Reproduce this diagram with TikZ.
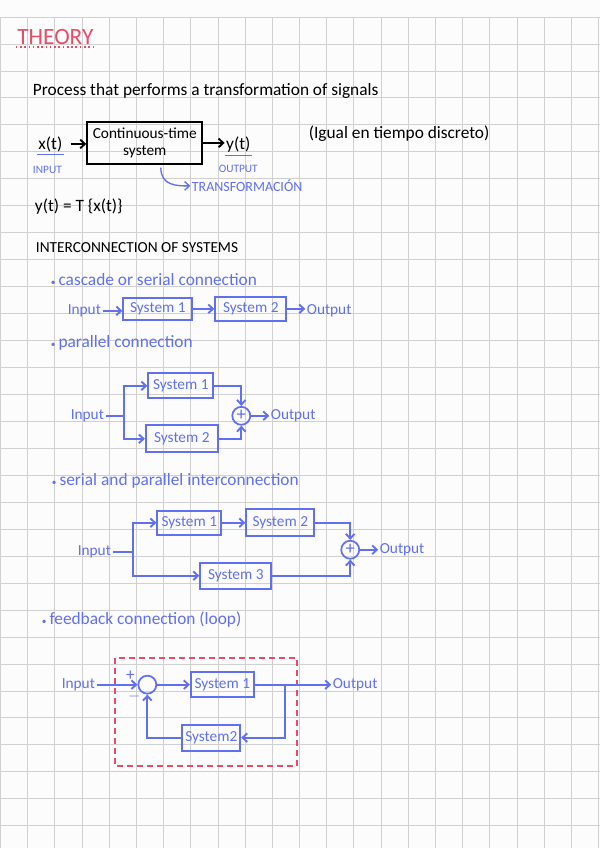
\documentclass[tikz,border=0pt]{standalone}
\usepackage{fontspec}
\setmainfont{Carlito}
\usetikzlibrary{arrows.meta, positioning, calc}
\definecolor{inkblue}{RGB}{96,112,240}
\definecolor{inkred}{RGB}{232,76,104}
\definecolor{gridgray}{RGB}{208,208,208}
\definecolor{paper}{RGB}{252,252,252}
\newcommand{\dotmark}{{\fontsize{7}{7}\selectfont\textbullet}\,}

\begin{document}
\begin{tikzpicture}[x=0.75pt, y=-0.75pt,
  txt/.style={font=\fontsize{13}{15}\selectfont, inner sep=1pt},
  note/.style={txt, text=inkblue},
  label/.style={note, font=\fontsize{11.5}{13}\selectfont},
  caps/.style={txt, text=inkblue, font=\fontsize{8.5}{9}\selectfont},
  sign/.style={note, font=\fontsize{13}{13}\selectfont},
  sysbox/.style={draw=inkblue, line width=1.4pt, text=inkblue, font=\fontsize{11.5}{13}\selectfont, inner sep=1pt},
  sumnode/.style={draw=inkblue, circle, line width=1.3pt, minimum size=13.5pt, inner sep=0pt, text=inkblue, font=\fontsize{14}{14}\selectfont},
  link/.style={draw=inkblue, line width=1.4pt},
  arrow/.style={link, -{Straight Barb[length=3.5pt, width=6.5pt]}},
  blackarrow/.style={line width=1.4pt, -{Straight Barb[length=3.5pt, width=6.5pt]}},
  gridline/.style={draw=gridgray, line width=0.6pt}]
  \fill[paper] (0,0) rectangle (600,848);
  \foreach \k in {0,...,22} \draw[gridline] (27.2*\k,17) -- (27.2*\k,848);
  \foreach \j in {0,...,30} \draw[gridline] (0,17+26.97*\j) -- (600,17+26.97*\j);

  \node[txt, text=inkred, font=\fontsize{17.5}{18}\selectfont] (theory) at (55,37) {THEORY};
  \draw[inkred, line width=1.2pt, dotted] ([yshift=-0.5pt]theory.south west) -- ([yshift=-0.5pt]theory.south east);
  \node[txt, anchor=west] (proc) at (31,91) {Process that performs a transformation of signals};

  \node[txt, draw, line width=1.6pt, minimum width=86.3pt, minimum height=31.5pt, align=center, font=\fontsize{11.5}{13}\selectfont] (csys) at (144.5,143) {Continuous-time\\system};
  \node[txt] (xt) at (50,144) {x(t)};
  \node[caps] (inp) at (47,170) {INPUT};
  \node[txt] (yt) at (238,145) {y(t)};
  \node[caps] (outp) at (238,169) {OUTPUT};
  \node[txt, text=inkblue, font=\fontsize{10.5}{12}\selectfont, anchor=west] (transf) at (190,186) {TRANSFORMACIÓN};
  \node[txt, anchor=west] (igual) at (307,134) {(Igual en tiempo discreto)};
  \node[txt, anchor=west] (eqn) at (33,207) {y(t) = T \{x(t)\}};
  \draw[blackarrow, shorten <=5pt] (xt.east) -- (xt.east -| csys.west);
  \draw[blackarrow] (csys.east) -- (csys.east -| yt.west);
  \draw[link, line width=1pt] ([yshift=-1pt]xt.south west) -- ([yshift=-1pt]xt.south east);
  \draw[link, line width=1pt] ([yshift=-1pt]yt.south west) -- ([yshift=-1pt]yt.south east);
  \draw[arrow, line width=1pt] ([xshift=12pt,yshift=-2pt]csys.south) .. controls +(0,18) and +(-14,0) .. (transf.west);

  \node[txt, anchor=west, font=\fontsize{11.5}{13}\selectfont] (inter) at (34,248) {INTERCONNECTION OF SYSTEMS};

  \node[note, anchor=west] (casc) at (49,280) {\dotmark cascade or serial connection};
  \node[label] (cin) at (84,311) {Input};
  \node[sysbox, minimum width=51.8pt, minimum height=16.5pt] (c1) at (157.5,309) {System 1};
  \node[sysbox, minimum width=53.3pt, minimum height=18pt] (c2) at (250.5,309) {System 2};
  \node[label, anchor=west] (cout) at (305,311) {Output};
  \draw[arrow] (cin.east) -- (cin.east -| c1.west);
  \draw[arrow] (c1) -- (c2);
  \draw[arrow] (c2.east) -- (c2.east -| cout.west);

  \node[note, anchor=west] (par) at (49,343) {\dotmark parallel connection};
  \node[label] (pin) at (87,416) {Input};
  \coordinate (psplit) at (124,416);
  \node[sysbox, minimum width=48.8pt, minimum height=18.8pt] (p1) at (180.5,386) {System 1};
  \node[sysbox, minimum width=54pt, minimum height=20.3pt] (p2) at (181.5,439) {System 2};
  \node[sumnode] (psum) at (241,416) {+};
  \node[label, anchor=west] (pout) at (269,416) {Output};
  \draw[link] (pin) -- (psplit);
  \draw[arrow] (psplit) |- (p1.west);
  \draw[arrow] (psplit) |- (p2.west);
  \draw[arrow] (p1.east) -| (psum.north);
  \draw[arrow] (p2.east) -| (psum.south);
  \draw[arrow] (psum) -- (pout);

  \node[note, anchor=west] (serpar) at (50,481) {\dotmark serial and parallel interconnection};
  \node[label] (sin) at (94,552) {Input};
  \coordinate (ssplit) at (133,552);
  \node[sysbox, minimum width=48pt, minimum height=18pt] (s1) at (189,523) {System 1};
  \node[sysbox, minimum width=51pt, minimum height=20.3pt] (s2) at (280,523) {System 2};
  \node[sysbox, minimum width=53.3pt, minimum height=19.5pt] (s3) at (235.5,576) {System 3};
  \node[sumnode] (ssum) at (350,550) {+};
  \node[label, anchor=west] (sout) at (378,550) {Output};
  \draw[link] (sin) -- (ssplit);
  \draw[arrow] (ssplit) |- (s1.west);
  \draw[arrow] (ssplit) |- (s3.west);
  \draw[arrow] (s1) -- (s2);
  \draw[arrow] (s2.east) -| (ssum.north);
  \draw[arrow] (s3.east) -| (ssum.south);
  \draw[arrow] (ssum) -- (sout);

  \node[note, anchor=west] (fb) at (40,620) {\dotmark feedback connection (loop)};
  \draw[draw=inkred, line width=1.3pt, dash pattern=on 4.5pt off 3pt] (115,658) rectangle (297,766);
  \node[label] (fin) at (78,685) {Input};
  \node[sumnode] (fsum) at (147,685) {};
  \node[sign] (plus) at (130,676) {+};
  \node[sign] (minus) at (134,697) {$-$};
  \node[sysbox, minimum width=47.3pt, minimum height=18.8pt] (f1) at (222,685) {System 1};
  \node[sysbox, minimum width=43.5pt, minimum height=19.5pt] (f2) at (211,738) {System2};
  \coordinate (fbr) at (285,685);
  \node[label, anchor=west] (fout) at (331,685) {Output};
  \draw[arrow] (fin) -- (fsum);
  \draw[arrow] (fsum) -- (f1);
  \draw[arrow] (f1) -- (fout);
  \draw[arrow] (fbr) |- (f2.east);
  \draw[arrow] (f2.west) -| (fsum.south);
\end{tikzpicture}
\end{document}
